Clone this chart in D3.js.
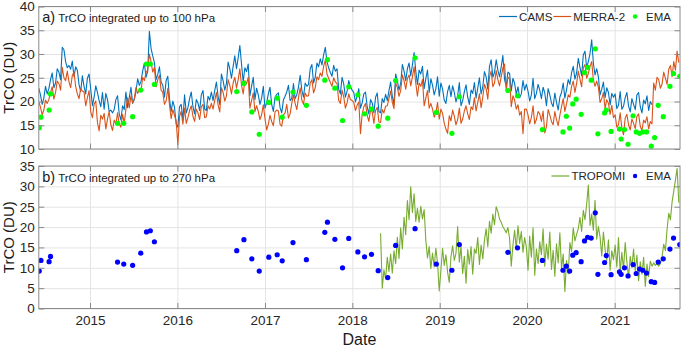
<!DOCTYPE html>
<html>
<head>
<meta charset="utf-8">
<script src="https://cdn.jsdelivr.net/npm/d3@7"></script>
<style>
  body { margin: 0; background: #fff; }
  svg { font-family: "Liberation Sans", Arial, Helvetica, sans-serif; }
  .grid line { stroke: #e4e4e4; stroke-width: 1; }
  .grid path { display: none; }
  .ticks path { display: none; }
  .ticks line { stroke: #8a8a8a; }
  .ticks text { fill: #262626; font-size: 13.5px; }
  .legend text { fill: #262626; font-size: 11.5px; }
</style>
</head>
<body>
<div id="chart-area"></div>
<script>

// SVG size
var width = 685,
    height = 348;

// Weekly model series (first value on the start date, then every 7 days)
var modelStart = "2014-06-01";

var camsValues = [
  // 2014
  22.8, 21.4, 19.4, 20.7, 23.2, 21.6, 22.7, 24.6, 26.0, 22.9, 23.9, 26.9, 26.2, 24.6, 31.4, 30.9,
  28.4, 27.1, 27.6, 26.8, 28.5, 25.2, 27.3, 26.6, 23.6, 22.1, 25.4, 23.2, 21.6, 24.9, 25.8,
  // 2015
  22.6, 19.1, 20.9, 23.3, 21.9, 20.2, 18.9, 21.9, 18.4, 21.7, 20.4, 17.9, 18.2, 17.6, 18.3, 20.4,
  21.2, 17.4, 16.1, 19.1, 18.3, 22.0, 18.7, 20.8, 23.0, 19.6, 20.4, 22.1, 24.8, 23.4, 24.2, 26.4,
  28.1, 25.1, 26.4, 34.8, 31.2, 29.6, 28.2, 24.6, 25.7, 27.3, 24.1, 23.4, 20.9, 24.4, 25.3, 20.6,
  17.9, 20.1, 18.8, 15.2,
  // 2016
  14.6, 18.9, 19.4, 16.1, 21.4, 17.6, 18.7, 20.6, 22.0, 18.9, 17.4, 20.4, 19.7, 18.1, 21.4, 22.3,
  18.4, 18.1, 21.1, 20.3, 22.0, 20.2, 22.3, 24.1, 21.1, 19.4, 25.8, 24.4, 22.4, 23.8, 28.3, 26.9,
  24.9, 27.4, 29.6, 26.9, 29.2, 31.8, 27.9, 24.1, 27.1, 26.3, 27.9, 21.2, 23.3, 25.1, 20.4, 22.8,
  21.4, 19.4, 20.7, 23.2,
  // 2017
  18.6, 19.7, 21.6, 23.0, 19.4, 17.9, 20.9, 21.5, 21.8, 18.7, 17.6, 20.3, 21.1, 22.0, 23.4, 20.2,
  20.6, 23.8, 20.6, 21.4, 23.1, 25.5, 22.4, 20.9, 23.9, 23.2, 23.6, 26.9, 27.8, 23.9, 25.1, 28.1,
  27.3, 29.0, 27.7, 29.8, 31.4, 28.4, 27.1, 26.1, 25.3, 27.6, 26.4, 26.9, 22.6, 21.6, 25.1, 23.7,
  20.9, 22.2, 24.4, 23.1,
  // 2018
  22.4, 21.9, 19.9, 21.2, 22.7, 18.6, 19.7, 21.6, 22.0, 18.9, 17.4, 20.4, 19.7, 17.6, 20.9, 21.8,
  17.9, 17.6, 20.6, 19.8, 21.5, 20.2, 22.3, 24.1, 21.1, 19.4, 25.8, 24.4, 22.4, 23.8, 27.8, 26.4,
  24.4, 26.9, 28.1, 25.4, 27.7, 30.3, 26.4, 23.6, 26.6, 25.8, 27.4, 22.7, 24.8, 26.6, 21.9, 24.8,
  23.4, 21.4, 22.7, 25.2,
  // 2019
  21.1, 23.9, 22.6, 20.3, 19.6, 22.1, 23.4, 21.0, 23.3, 21.9, 19.9, 21.2, 24.0, 19.1, 20.2, 22.1,
  23.5, 20.9, 19.4, 22.4, 21.7, 24.0, 20.7, 22.8, 25.0, 21.6, 23.1, 26.3, 25.2, 22.6, 27.4, 28.8,
  25.1, 26.1, 28.8, 26.6, 25.2, 27.3, 29.7, 24.6, 23.2, 26.2, 25.9, 22.2, 24.9, 23.8, 21.5, 23.1,
  20.8, 21.6, 24.4, 22.4,
  // 2020
  23.6, 22.2, 20.1, 21.4, 24.9, 20.6, 21.7, 23.6, 22.4, 20.6, 23.0, 21.8, 19.1, 22.7, 21.4, 19.7,
  18.9, 21.8, 19.8, 18.2, 20.9, 21.9, 23.9, 20.7, 22.5, 24.6, 23.6, 26.1, 27.4, 24.7, 26.0, 29.1,
  27.2, 25.4, 29.8, 30.6, 27.2, 28.4, 30.1, 33.0, 28.1, 25.6, 26.9, 25.2, 21.4, 22.6, 24.1, 20.8,
  22.9, 21.9, 19.3, 21.7,
  // 2021 (CAMS stops in June)
  20.9, 21.6, 18.5, 19.2, 22.1, 18.4, 19.0, 20.8, 21.9, 19.1, 17.8, 20.6, 19.4, 18.3, 21.4, 21.9,
  18.9, 17.6, 20.3, 19.5, 21.2, 18.1, 20.0, 19.3
];

var merraValues = [
  // 2014
  19.9, 18.8, 17.2, 18.2, 20.3, 19.6, 20.4, 21.9, 23.1, 20.5, 21.9, 24.3, 23.8, 22.4, 27.2, 25.0,
  24.4, 26.4, 24.2, 22.9, 25.5, 26.2, 23.2, 21.6, 20.6, 22.7, 22.2, 22.0, 19.1, 20.8, 22.3,
  // 2015
  17.8, 16.6, 19.4, 20.1, 15.6, 13.8, 17.1, 16.3, 17.5, 14.2, 16.3, 17.9, 15.1, 13.9, 16.1, 15.2,
  17.6, 15.3, 14.6, 17.3, 15.4, 18.4, 20.8, 18.7, 21.2, 19.7, 20.6, 23.0, 21.7, 22.4, 22.2, 25.1,
  24.4, 26.1, 26.6, 30.0, 28.4, 26.2, 27.1, 23.1, 24.6, 25.5, 22.4, 21.9, 19.4, 20.1, 22.8, 19.3,
  16.4, 18.3, 17.1, 15.9,
  // 2016
  10.9, 16.8, 17.9, 15.2, 18.6, 15.4, 16.6, 18.1, 19.1, 16.9, 15.8, 18.4, 17.6, 16.2, 18.9, 19.4,
  16.6, 16.8, 19.1, 18.4, 19.6, 18.4, 20.2, 21.9, 19.3, 17.8, 22.9, 21.9, 20.1, 21.2, 24.6, 23.4,
  21.6, 23.9, 25.1, 22.8, 24.6, 26.9, 23.4, 21.6, 24.4, 23.7, 25.1, 18.6, 20.2, 21.8, 17.9, 19.1,
  17.9, 16.2, 17.2, 19.3,
  // 2017
  16.4, 14.0, 15.2, 17.1, 15.8, 14.9, 17.8, 18.2, 18.0, 15.2, 14.8, 17.2, 17.6, 19.4, 16.5, 17.4,
  19.6, 21.4, 19.6, 18.3, 20.8, 22.9, 20.3, 19.4, 21.8, 21.1, 21.2, 23.9, 24.6, 21.8, 22.9, 25.2,
  24.6, 26.0, 25.3, 27.4, 28.7, 25.8, 24.9, 24.0, 23.2, 25.0, 24.1, 23.8, 20.2, 19.6, 22.4, 21.0,
  18.6, 19.7, 21.6, 20.4,
  // 2018
  20.2, 19.8, 18.1, 19.2, 19.9, 13.2, 17.3, 18.9, 19.6, 17.1, 15.8, 18.2, 17.8, 15.4, 18.1, 18.8,
  15.7, 15.6, 18.3, 17.6, 19.0, 19.1, 20.6, 22.2, 19.8, 18.5, 23.9, 23.0, 21.1, 22.3, 25.6, 24.4,
  22.6, 24.8, 25.6, 23.3, 25.2, 27.3, 23.9, 21.1, 23.9, 23.2, 24.6, 19.1, 20.7, 22.3, 18.6, 19.6,
  18.4, 16.7, 17.6, 19.8,
  // 2019
  16.3, 18.4, 17.5, 15.4, 14.2, 13.3, 17.0, 15.9, 18.2, 16.9, 15.1, 16.2, 18.6, 15.4, 16.3, 18.0,
  19.1, 17.4, 16.2, 18.9, 18.3, 20.8, 18.0, 19.8, 21.6, 18.7, 20.9, 23.6, 22.7, 20.5, 25.2, 26.4,
  23.1, 23.9, 26.5, 24.6, 23.3, 25.2, 27.1, 27.9, 22.4, 25.1, 24.8, 18.9, 21.2, 20.3, 18.4, 19.3,
  17.1, 17.9, 13.2, 18.4,
  // 2020
  18.4, 17.2, 15.3, 16.6, 19.1, 15.3, 16.2, 17.9, 17.4, 15.8, 18.0, 13.4, 14.7, 18.3, 17.2, 15.8,
  15.1, 17.9, 16.2, 14.9, 17.1, 18.9, 20.6, 17.9, 19.5, 21.4, 20.9, 23.2, 24.3, 21.9, 23.8, 26.4,
  24.7, 23.1, 27.1, 27.8, 24.9, 25.9, 27.4, 28.4, 24.6, 23.2, 24.3, 23.0, 19.8, 20.6, 21.9, 18.5,
  20.4, 19.6, 17.3, 19.2,
  // 2021
  16.6, 17.2, 14.6, 15.1, 17.6, 14.4, 13.0, 16.5, 17.3, 15.1, 14.0, 16.3, 15.4, 14.3, 16.9, 17.4,
  14.8, 13.9, 16.1, 15.5, 16.8, 14.2, 15.8, 15.3, 23.9, 22.4, 25.1, 24.6, 22.8, 23.7, 26.2, 24.9,
  23.6, 26.8, 27.6, 25.2, 28.4, 26.6, 30.6, 28.2
];

// TROPOMI, weekly from its own start date
var tropomiStart = "2018-04-29";

var tropomiValues = [
  // 2018
  18.5, 5.0, 9.5, 7.2, 12.6, 9.1, 13.4, 8.7, 14.2, 11.0, 17.5, 12.3, 19.8, 14.6, 22.4, 18.1,
  26.5, 21.8, 29.9, 23.6, 28.2, 21.4, 24.6, 21.2, 25.1, 22.0, 24.3, 16.8, 12.4, 15.2, 9.8, 13.6,
  10.2, 14.8, 11.2, 4.3,
  // 2019
  9.4, 14.8, 10.6, 13.2, 8.9, 6.4, 12.7, 15.4, 11.8, 13.6, 20.1, 11.4, 15.2, 8.6, 12.8, 6.2,
  14.5, 10.9, 15.2, 8.4, 14.6, 13.5, 17.4, 10.8, 15.6, 12.2, 16.8, 19.6, 15.2, 21.4, 18.5, 23.2,
  20.6, 25.0, 23.8, 22.0, 21.2, 20.1, 19.4, 18.6, 19.9, 17.2, 10.4, 15.6, 19.2, 14.6, 20.3, 16.0,
  18.9, 13.8, 17.4, 15.1,
  // 2020
  9.4, 17.8, 12.6, 19.8, 8.2, 14.6, 11.0, 16.4, 13.2, 19.6, 10.4, 15.8, 12.1, 18.8, 9.6, 14.3,
  7.9, 15.9, 11.2, 18.6, 9.8, 13.4, 4.2, 11.8, 8.5, 16.2, 14.0, 19.8, 16.6, 18.2, 19.6, 22.4,
  18.9, 24.1, 21.8, 25.6, 30.3, 20.4, 23.2, 19.2, 26.6, 17.0, 20.1, 17.6, 12.9, 18.8, 14.4, 11.8,
  16.9, 9.4, 14.2, 12.0,
  // 2021
  15.6, 10.2, 17.4, 8.9, 13.8, 9.6, 16.2, 11.4, 7.6, 12.8, 10.1, 14.6, 9.2, 13.1, 6.8, 11.5,
  8.4, 12.6, 5.4, 10.9, 7.8, 11.6, 10.4, 11.2, 10.6, 11.0, 10.4, 11.0, 12.6, 15.8, 14.2, 19.5,
  23.4, 21.8, 26.2, 28.9, 31.6, 34.4, 26.0
];

// EMA measurement dates (shared by both panels)
var emaDates = [
  "2014-06-03", "2014-06-10", "2014-07-14", "2014-07-20", "2015-04-26", "2015-05-22", "2015-06-28",
  "2015-08-01", "2015-08-25", "2015-09-10", "2015-09-27", "2016-09-05", "2016-10-05", "2016-11-07",
  "2016-12-08", "2017-01-17", "2017-02-21", "2017-03-14", "2017-04-28", "2017-06-23", "2017-09-08",
  "2017-09-19", "2017-10-20", "2017-11-21", "2017-12-17", "2018-01-24", "2018-02-21", "2018-03-22",
  "2018-04-19", "2018-05-29", "2018-07-01", "2018-09-20", "2018-12-18", "2019-02-21", "2019-03-24",
  "2019-10-13", "2019-11-22", "2020-03-05", "2020-05-30", "2020-06-13", "2020-06-27", "2020-07-10",
  "2020-07-24", "2020-08-14", "2020-08-28", "2020-09-10", "2020-09-25", "2020-10-12", "2020-10-23",
  "2020-11-20", "2020-11-27", "2020-12-17", "2021-01-21", "2021-01-28", "2021-02-11", "2021-02-26",
  "2021-03-19", "2021-04-01", "2021-04-15", "2021-04-29", "2021-05-14", "2021-06-03", "2021-06-17",
  "2021-07-02", "2021-07-23", "2021-08-20", "2021-09-04", "2021-09-30"
];

// EMA TrCO up to 100 hPa (panel a)
var ema100 = [
  14.5, 16.7, 18.2, 21.6, 15.4, 15.4, 16.8, 22.4, 27.9, 27.9, 23.6, 22.1, 23.8, 17.8,
  13.1, 19.8, 20.7, 16.7, 22.0, 19.2, 24.5, 28.8, 22.8, 16.0, 23.1, 21.4, 17.4, 18.4,
  14.8, 16.5, 24.4, 29.2, 17.7, 13.3, 21.0, 22.3, 21.2, 14.1, 13.6, 16.9, 14.4, 19.5,
  20.5, 17.3, 26.1, 27.2, 24.5, 31.1, 13.2, 17.6, 18.2, 13.7, 14.2, 12.1, 14.1, 11.0,
  17.0, 13.6, 13.3, 13.6, 13.6, 10.6, 12.4, 19.2, 16.8, 23.2, 25.9, 25.3
];

// EMA TrCO up to 270 hPa (panel b)
var ema270 = [
  9.2, 11.8, 11.5, 12.8, 11.4, 10.9, 10.6, 13.6, 18.8, 19.1, 16.4, 14.2, 16.9, 12.2,
  9.2, 12.6, 13.2, 11.7, 16.2, 12.0, 18.7, 21.2, 17.0, 10.0, 17.2, 13.9, 12.7, 13.3,
  9.3, 7.6, 15.5, 19.6, 10.9, 9.4, 15.7, 13.8, 14.9, 11.8, 9.4, 10.4, 9.2, 13.1,
  13.7, 11.5, 16.6, 17.5, 17.3, 23.5, 8.4, 11.3, 13.0, 8.3, 9.0, 8.4, 10.0, 8.0,
  10.8, 8.6, 9.7, 9.4, 8.7, 6.6, 6.4, 11.4, 12.2, 14.6, 17.3, 15.7
];

// Axis ticks
var yearTicks = [2015, 2016, 2017, 2018, 2019, 2020, 2021];
var ticksA = [10, 15, 20, 25, 30, 35, 40];
var ticksB = [0, 5, 10, 15, 20, 25, 30, 35];

var parseDate = d3.timeParse("%Y-%m-%d");

function weekly(start, values) {
  var t0 = parseDate(start);
  return values.map(function(v, i) {
    return { date: d3.timeDay.offset(t0, 7 * i), value: v };
  });
}

function points(values) {
  return values.map(function(v, i) {
    return { date: parseDate(emaDates[i]), value: v };
  });
}

var cams = weekly(modelStart, camsValues),
    merra = weekly(modelStart, merraValues),
    tropomi = weekly(tropomiStart, tropomiValues);

var svg = d3.select("#chart-area").append("svg")
    .attr("width", width)
    .attr("height", height);

var x0 = 38.8, x1 = 680;

var x = d3.scaleTime()
    .domain([parseDate("2014-06-01"), parseDate("2021-10-01")])
    .range([x0, x1]);

var yearDates = yearTicks.map(function(y) { return new Date(y, 0, 1); });

function drawPanel(p) {
  var y = d3.scaleLinear().domain(p.domain).range([p.bottom, p.top]);
  var h = p.bottom - p.top;
  var g = svg.append("g");

  // Grid
  g.append("g").attr("class", "grid")
      .attr("transform", "translate(0," + p.bottom + ")")
      .call(d3.axisBottom(x).tickValues(yearDates).tickSize(-h).tickFormat(""));
  g.append("g").attr("class", "grid")
      .attr("transform", "translate(" + x0 + ",0)")
      .call(d3.axisLeft(y).tickValues(p.ticks).tickSize(-(x1 - x0)).tickFormat(""));

  // Clip
  svg.append("clipPath").attr("id", p.id)
    .append("rect")
      .attr("x", x0).attr("y", p.top)
      .attr("width", x1 - x0).attr("height", h);

  var line = d3.line()
      .x(function(d) { return x(d.date); })
      .y(function(d) { return y(d.value); });

  var plot = g.append("g").attr("clip-path", "url(#" + p.id + ")");

  p.lines.forEach(function(s) {
    plot.append("path")
        .datum(s.data)
        .attr("fill", "none")
        .attr("stroke", s.color)
        .attr("stroke-width", 1.1)
        .attr("stroke-linejoin", "round")
        .attr("d", line);
  });

  plot.selectAll("circle.ema")
      .data(p.dots.data)
      .enter()
      .append("circle")
      .attr("class", "ema")
      .attr("cx", function(d) { return x(d.date); })
      .attr("cy", function(d) { return y(d.value); })
      .attr("r", 2.6)
      .attr("fill", p.dots.color);

  // Box
  g.append("rect")
      .attr("x", x0).attr("y", p.top)
      .attr("width", x1 - x0).attr("height", h)
      .attr("fill", "none")
      .attr("stroke", "#8a8a8a")
      .attr("stroke-width", 1);

  // Ticks (inside, on all four sides)
  g.append("g").attr("class", "ticks")
      .attr("transform", "translate(0," + p.bottom + ")")
      .call(d3.axisBottom(x).tickValues(yearDates).tickSize(-5.5).tickPadding(7)
        .tickFormat(p.showDates ? d3.timeFormat("%Y") : ""));
  g.append("g").attr("class", "ticks")
      .attr("transform", "translate(0," + p.top + ")")
      .call(d3.axisTop(x).tickValues(yearDates).tickSize(-5.5).tickFormat(""));
  g.append("g").attr("class", "ticks")
      .attr("transform", "translate(" + x0 + ",0)")
      .call(d3.axisLeft(y).tickValues(p.ticks).tickSize(-5.5).tickPadding(4));
  g.append("g").attr("class", "ticks")
      .attr("transform", "translate(" + x1 + ",0)")
      .call(d3.axisRight(y).tickValues(p.ticks).tickSize(-5.5).tickFormat(""));

  // Panel title
  var title = g.append("text")
      .attr("x", x0 + 3.5)
      .attr("y", p.top + 15.5)
      .attr("fill", "#1a1a1a");
  title.append("tspan").attr("font-size", "14.5px").text(p.letter);
  title.append("tspan").attr("font-size", "11.5px").text(" " + p.title);

  // Y label
  g.append("text")
      .attr("transform", "translate(14," + (p.top + h / 2) + ") rotate(-90)")
      .attr("text-anchor", "middle")
      .attr("font-size", "15px")
      .attr("fill", "#1a1a1a")
      .text("TrCO (DU)");

  // Legend, right aligned
  var leg = g.append("g").attr("class", "legend");
  var items = p.legend;
  var ly = p.top + 10;
  var widths = items.map(function(it) {
    var t = leg.append("text").text(it.label);
    var w = t.node().getComputedTextLength();
    t.remove();
    return w;
  });
  var total = d3.sum(widths) + items.length * 20 + (items.length - 1) * 1;
  var cx = x1 - 9 - total;
  items.forEach(function(it, i) {
    if (it.type === "line") {
      leg.append("line")
          .attr("x1", cx).attr("x2", cx + 18)
          .attr("y1", ly).attr("y2", ly)
          .attr("stroke", it.color).attr("stroke-width", 1.2);
    } else {
      leg.append("circle")
          .attr("cx", cx + 9).attr("cy", ly)
          .attr("r", 2.2).attr("fill", it.color);
    }
    leg.append("text")
        .attr("x", cx + 20).attr("y", ly)
        .attr("dy", "0.35em")
        .text(it.label);
    cx += 20 + widths[i] + 1;
  });
}

drawPanel({
  id: "clip-a",
  top: 6.5, bottom: 149,
  domain: [10, 40], ticks: ticksA,
  letter: "a)", title: "TrCO integrated up to 100 hPa",
  lines: [
    { data: cams, color: "#0072BD" },
    { data: merra, color: "#D95319" }
  ],
  dots: { data: points(ema100), color: "#00FF00" },
  legend: [
    { type: "line", color: "#0072BD", label: "CAMS" },
    { type: "line", color: "#D95319", label: "MERRA-2" },
    { type: "dot", color: "#00FF00", label: "EMA" }
  ],
  showDates: false
});

drawPanel({
  id: "clip-b",
  top: 166, bottom: 308.5,
  domain: [0, 35], ticks: ticksB,
  letter: "b)", title: "TrCO integrated up to 270 hPa",
  lines: [
    { data: tropomi, color: "#77AC30" }
  ],
  dots: { data: points(ema270), color: "#0000FF" },
  legend: [
    { type: "line", color: "#77AC30", label: "TROPOMI" },
    { type: "dot", color: "#0000FF", label: "EMA" }
  ],
  showDates: true
});

// X label
svg.append("text")
    .attr("x", (x0 + x1) / 2)
    .attr("y", 345)
    .attr("text-anchor", "middle")
    .attr("font-size", "16px")
    .attr("fill", "#1a1a1a")
    .text("Date");

</script>
</body>
</html>
